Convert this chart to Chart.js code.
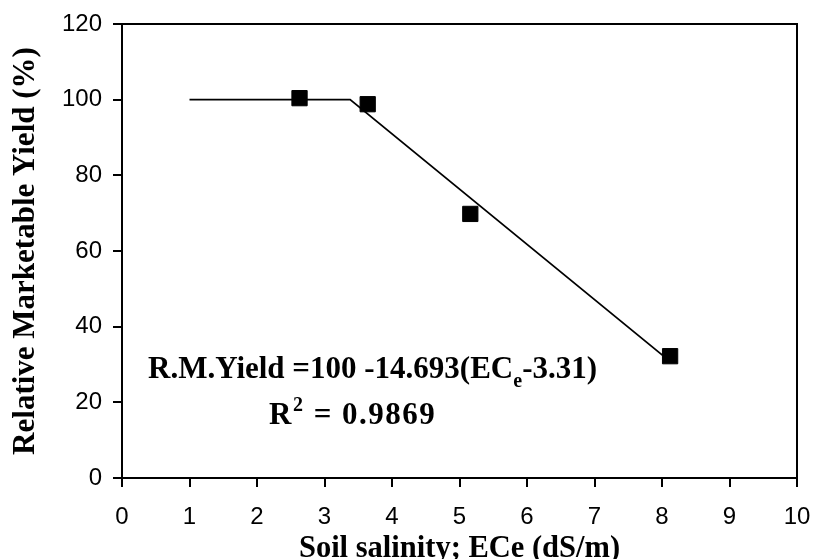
<!DOCTYPE html>
<html>
<head>
<meta charset="utf-8">
<script src="https://cdn.jsdelivr.net/npm/chart.js@4.4.1/dist/chart.umd.min.js"></script>
<style>
  html, body { margin: 0; padding: 0; background: #fff; }
  #wrap { position: relative; width: 814px; height: 559px; }
  #chart { position: absolute; left: 0; top: 0; }
  .note {
    position: absolute;
    font-family: 'Liberation Serif', 'Times New Roman', serif;
    font-weight: bold;
    font-size: 31px;
    line-height: 31px;
    color: #000;
    white-space: nowrap;
  }
  .note sub, .note sup { font-size: 20px; line-height: 0; }
  .note sub { position: relative; top: 2px; }
  .note sup { position: relative; top: -2px; }
</style>
</head>
<body>
<div id="wrap">
  <canvas id="chart" width="814" height="559"></canvas>
  <div class="note" id="eq" style="left:148px; top:352px;">R.M.Yield =100 -14.693(EC<sub>e</sub>-3.31)</div>
  <div class="note" id="r2" style="left:269px; top:398px; letter-spacing:1.5px;">R<sup>2</sup> = 0.9869</div>
</div>
<script>
// Observed points
const salinity = [2.63, 3.64, 5.16, 8.12];
const yieldPct = [100.4, 98.8, 69.8, 32.2];

// Threshold-slope fit line
const fitX = [1, 3.38, 8.01];
const fitY = [100, 100, 32.4];

// Axis ticks
const xTicks = [0, 1, 2, 3, 4, 5, 6, 7, 8, 9, 10];
const yTicks = [0, 20, 40, 60, 80, 100, 120];

const tickFont = { family: "'Liberation Sans', Arial, sans-serif", size: 24 };
const xTitleFont = { family: "'Liberation Serif', 'Times New Roman', serif", size: 30.5, weight: 'bold' };
const yTitleFont = { family: "'Liberation Serif', 'Times New Roman', serif", size: 31, weight: 'bold' };

const ctx = document.getElementById('chart').getContext('2d');
const chart = new Chart(ctx, {
    type: 'scatter',
    data: {
        datasets: [
            {
                label: 'Fit',
                data: fitX.map((x, i) => ({ x: x, y: fitY[i] })),
                showLine: true,
                borderColor: '#000',
                borderWidth: 1.8,
                pointRadius: 0,
                fill: false
            },
            {
                label: 'Observed',
                data: salinity.map((x, i) => ({ x: x, y: yieldPct[i] })),
                pointStyle: 'rect',
                pointRadius: 10.8,
                backgroundColor: '#000',
                borderColor: '#000',
                borderWidth: 1
            }
        ]
    },
    options: {
        responsive: false,
        animation: false,
        layout: { padding: { top: 24, right: 17, left: 0, bottom: 0 } },
        plugins: {
            legend: { display: false },
            tooltip: { enabled: false }
        },
        scales: {
            x: {
                type: 'linear',
                position: 'bottom',
                min: 0,
                max: 10,
                afterBuildTicks: scale => { scale.ticks = xTicks.map(v => ({ value: v })); },
                afterFit: scale => {
                    scale.height = 81;
                    scale.paddingLeft = 0;
                    scale.paddingRight = 0;
                },
                ticks: { color: '#000', font: tickFont, padding: 16, maxRotation: 0 },
                grid: { display: true, drawOnChartArea: false, drawTicks: true, tickLength: 9, color: '#000', lineWidth: 2 },
                border: { display: true, color: '#000', width: 2 },
                title: { display: true, text: 'Soil salinity; ECe (dS/m)', color: '#000', font: xTitleFont, padding: { top: 0, bottom: -8 } }
            },
            y: {
                type: 'linear',
                position: 'left',
                min: 0,
                max: 120,
                afterBuildTicks: scale => { scale.ticks = yTicks.map(v => ({ value: v })); },
                afterFit: scale => {
                    scale.width = 122;
                    scale.paddingTop = 0;
                    scale.paddingBottom = 0;
                },
                ticks: { color: '#000', font: tickFont, padding: 11 },
                grid: { display: true, drawOnChartArea: false, drawTicks: true, tickLength: 9, color: '#000', lineWidth: 2 },
                border: { display: true, color: '#000', width: 2 },
                title: { display: true, text: 'Relative Marketable Yield (%)', color: '#000', font: yTitleFont, padding: 7 }
            },
            xTop: {
                type: 'linear',
                position: 'top',
                min: 0,
                max: 10,
                afterFit: scale => { scale.height = 0; },
                ticks: { display: false },
                grid: { display: false },
                border: { display: true, color: '#000', width: 2 }
            },
            yRight: {
                type: 'linear',
                position: 'right',
                min: 0,
                max: 120,
                afterFit: scale => { scale.width = 0; },
                ticks: { display: false },
                grid: { display: false },
                border: { display: true, color: '#000', width: 2 }
            }
        }
    }
});
</script>
</body>
</html>
